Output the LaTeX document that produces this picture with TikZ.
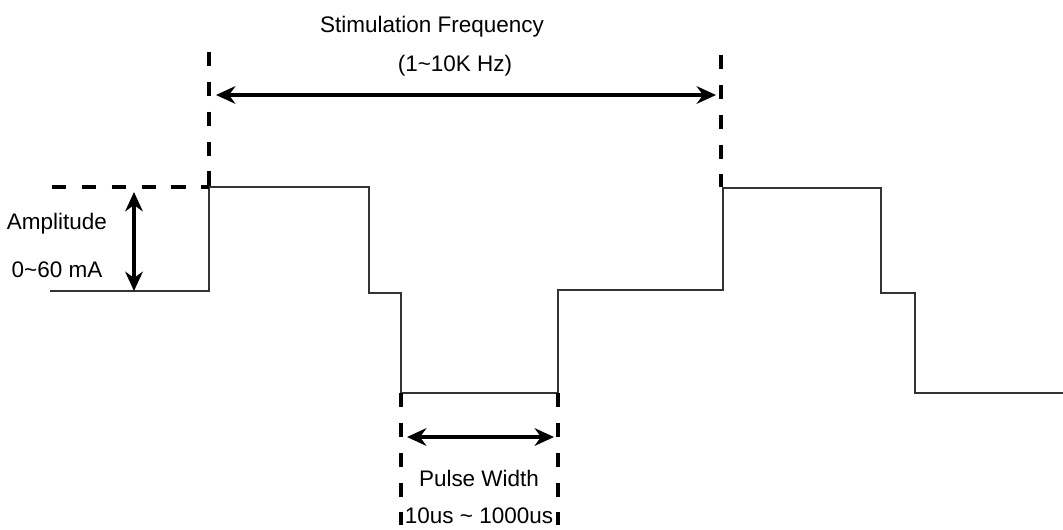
\documentclass[tikz,border=0pt]{standalone}
\usepackage{fontspec}
\setmainfont{Liberation Sans}
\usetikzlibrary{arrows.meta}

\begin{document}
\begin{tikzpicture}[x=0.02cm, y=-0.02cm,
	wave/.style={draw=black!80, line width=0.9pt},
	guide/.style={draw=black, line width=2.7pt, dash pattern=on 8pt off 9pt},
	span/.style={draw=black, line width=2.1pt, {Stealth[length=11pt, width=10pt]}-{Stealth[length=11pt, width=10pt]}},
	lbl/.style={font=\fontsize{12.8}{15}\selectfont, inner sep=0pt}]
	\useasboundingbox (0, 0) rectangle (1063, 529);
	% Waveform corners:
	\coordinate (w0) at (50, 291);
	\coordinate (w1) at (209, 291);
	\coordinate (w2) at (209, 187);
	\coordinate (w3) at (369, 187);
	\coordinate (w4) at (369, 293);
	\coordinate (w5) at (401, 293);
	\coordinate (w6) at (401, 393);
	\coordinate (w7) at (558, 393);
	\coordinate (w8) at (558, 290);
	\coordinate (w9) at (723, 290);
	\coordinate (w10) at (723, 188);
	\coordinate (w11) at (881, 188);
	\coordinate (w12) at (881, 293);
	\coordinate (w13) at (915, 293);
	\coordinate (w14) at (915, 393);
	\coordinate (w15) at (1063, 393);
	\draw[wave] (w0) -- (w1) -- (w2) -- (w3) -- (w4) -- (w5) -- (w6) -- (w7) -- (w8) -- (w9) -- (w10) -- (w11) -- (w12) -- (w13) -- (w14) -- (w15);
	% Guide lines:
	\coordinate (ampL) at (52, 187);
	\coordinate (freqL) at (209, 52);
	\coordinate (freqR) at (721, 55);
	\coordinate (pwL) at (401, 525);
	\coordinate (pwR) at (558, 525);
	\draw[guide] (ampL) -- (w2);
	\draw[guide] (freqL) -- (w2);
	\draw[guide] (freqR) -- (721, 187);
	\draw[guide] (w6) -- (pwL);
	\draw[guide] (w7) -- (pwR);
	% Spans:
	\coordinate (fa) at (216, 95);
	\coordinate (fb) at (716, 95);
	\coordinate (aa) at (134, 192);
	\coordinate (ab) at (134, 291);
	\coordinate (pa) at (407, 437);
	\coordinate (pb) at (554, 437);
	\draw[span] (fa) -- (fb);
	\draw[span] (aa) -- (ab);
	\draw[span] (pa) -- (pb);
	% Labels:
	\node[lbl] (freqT) at (432, 27) {Stimulation Frequency};
	\node[lbl] (freqV) at (455, 66) {(1\textasciitilde10K Hz)};
	\node[lbl] (ampT) at (57, 224) {Amplitude};
	\node[lbl] (ampV) at (57, 270) {0\textasciitilde60 mA};
	\node[lbl] (pwT) at (479, 478) {Pulse Width};
	\node[lbl] (pwV) at (479, 516) {10us \textasciitilde{} 1000us};
\end{tikzpicture}
\end{document}
